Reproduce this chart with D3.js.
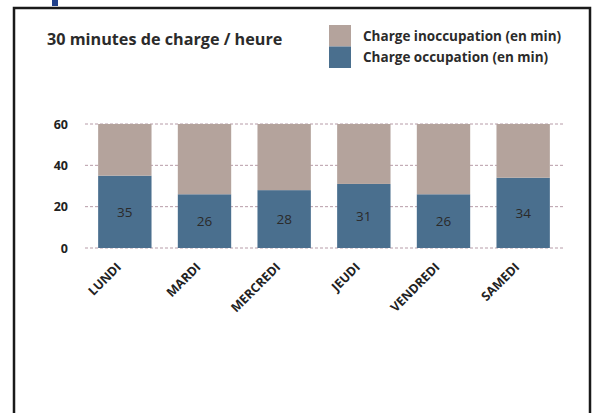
<!DOCTYPE html>
<html>
<head>
<meta charset="utf-8">
<script src="https://cdn.jsdelivr.net/npm/d3@7"></script>
<style>
  body { margin: 0; background: #fff; }
  svg { display: block; font-family: "Open Sans", sans-serif; }
</style>
</head>
<body>
<svg width="598" height="413"></svg>
<script>
// data
var days = ["LUNDI", "MARDI", "MERCREDI", "JEUDI", "VENDREDI", "SAMEDI"];
var occupation = [35, 26, 28, 31, 26, 34];
var inoccupation = [25, 34, 32, 29, 34, 26];
var yTicks = [0, 20, 40, 60];
var seriesNames = ["Charge inoccupation (en min)", "Charge occupation (en min)"];

var svg = d3.select("svg"),
    margin = {top: 124, right: 35, bottom: 165, left: 85},
    width = +svg.attr("width") - margin.left - margin.right,
    height = +svg.attr("height") - margin.top - margin.bottom;

var colorOcc = "#4a6f8e",
    colorInocc = "#b4a39c";

// frame of the panel
svg.append("path")
    .attr("d", "M14,413V8H590V413")
    .attr("fill", "none")
    .attr("stroke", "#1a1a1a")
    .attr("stroke-width", 2.5);

// piece of the heading cut off above the frame
svg.append("rect")
    .attr("x", 52).attr("y", 0)
    .attr("width", 6).attr("height", 6)
    .attr("fill", "#1f3f8a");

svg.append("text")
    .attr("x", 47)
    .attr("y", 45)
    .attr("font-size", 16.2)
    .attr("font-weight", "bold")
    .attr("fill", "#2b2b2b")
    .text("30 minutes de charge / heure");

var g = svg.append("g").attr("transform", "translate(" + margin.left + "," + margin.top + ")");

var x = d3.scaleBand()
    .domain(days)
    .range([0, width])
    .paddingInner(0.33)
    .paddingOuter(0.165);

var y = d3.scaleLinear()
    .domain([0, 60])
    .range([height, 0]);

// dashed gridlines
g.append("g")
  .selectAll("line")
  .data(yTicks)
  .enter().append("line")
    .attr("x1", 0)
    .attr("x2", width)
    .attr("y1", function(d) { return y(d); })
    .attr("y2", function(d) { return y(d); })
    .attr("stroke", "#b79ca8")
    .attr("stroke-width", 1)
    .attr("stroke-dasharray", "3,2");

var rows = days.map(function(d, i) { return {day: d, occ: occupation[i], inocc: inoccupation[i]}; });

var bars = g.append("g")
  .selectAll("g")
  .data(rows)
  .enter().append("g");

bars.append("rect")
    .attr("x", function(d) { return x(d.day); })
    .attr("y", function(d) { return y(d.occ); })
    .attr("width", x.bandwidth())
    .attr("height", function(d) { return height - y(d.occ); })
    .attr("fill", colorOcc);

bars.append("rect")
    .attr("x", function(d) { return x(d.day); })
    .attr("y", function(d) { return y(d.occ + d.inocc); })
    .attr("width", x.bandwidth())
    .attr("height", function(d) { return y(d.occ) - y(d.occ + d.inocc); })
    .attr("fill", colorInocc);

bars.append("text")
    .attr("x", function(d) { return x(d.day) + x.bandwidth() / 2; })
    .attr("y", function(d) { return y(d.occ / 2); })
    .attr("dy", "0.35em")
    .attr("text-anchor", "middle")
    .attr("font-size", 13.5)
    .attr("fill", "#2a2a2a")
    .text(function(d) { return d.occ; });

// y axis labels
var yAxis = g.append("g")
    .call(d3.axisLeft(y).tickValues(yTicks).tickSize(0).tickPadding(17));
yAxis.select(".domain").remove();
yAxis.selectAll("text")
    .attr("font-family", "'Open Sans', sans-serif")
    .attr("font-size", 12.5)
    .attr("font-weight", "bold")
    .attr("fill", "#222");

// x axis labels, rotated
var xAxis = g.append("g")
    .attr("transform", "translate(0," + height + ")")
    .call(d3.axisBottom(x).tickSize(0).tickPadding(0));
xAxis.select(".domain").remove();
xAxis.selectAll("text")
    .attr("font-family", "'Open Sans', sans-serif")
    .attr("font-size", 12.5)
    .attr("font-weight", "bold")
    .attr("fill", "#222")
    .attr("text-anchor", "end")
    .attr("dy", null)
    .attr("transform", "translate(-3,20) rotate(-45)");

// legend
var legend = svg.append("g")
  .selectAll("g")
  .data(seriesNames)
  .enter().append("g")
    .attr("transform", function(d, i) { return "translate(329," + (25 + i * 21.5) + ")"; });

legend.append("rect")
    .attr("width", 22)
    .attr("height", 21.5)
    .attr("fill", function(d, i) { return i === 0 ? colorInocc : colorOcc; });

legend.append("text")
    .attr("x", 34)
    .attr("y", 15.5)
    .attr("font-size", 13.5)
    .attr("font-weight", "bold")
    .attr("fill", "#2b2b2b")
    .text(function(d) { return d; });
</script>
</body>
</html>
